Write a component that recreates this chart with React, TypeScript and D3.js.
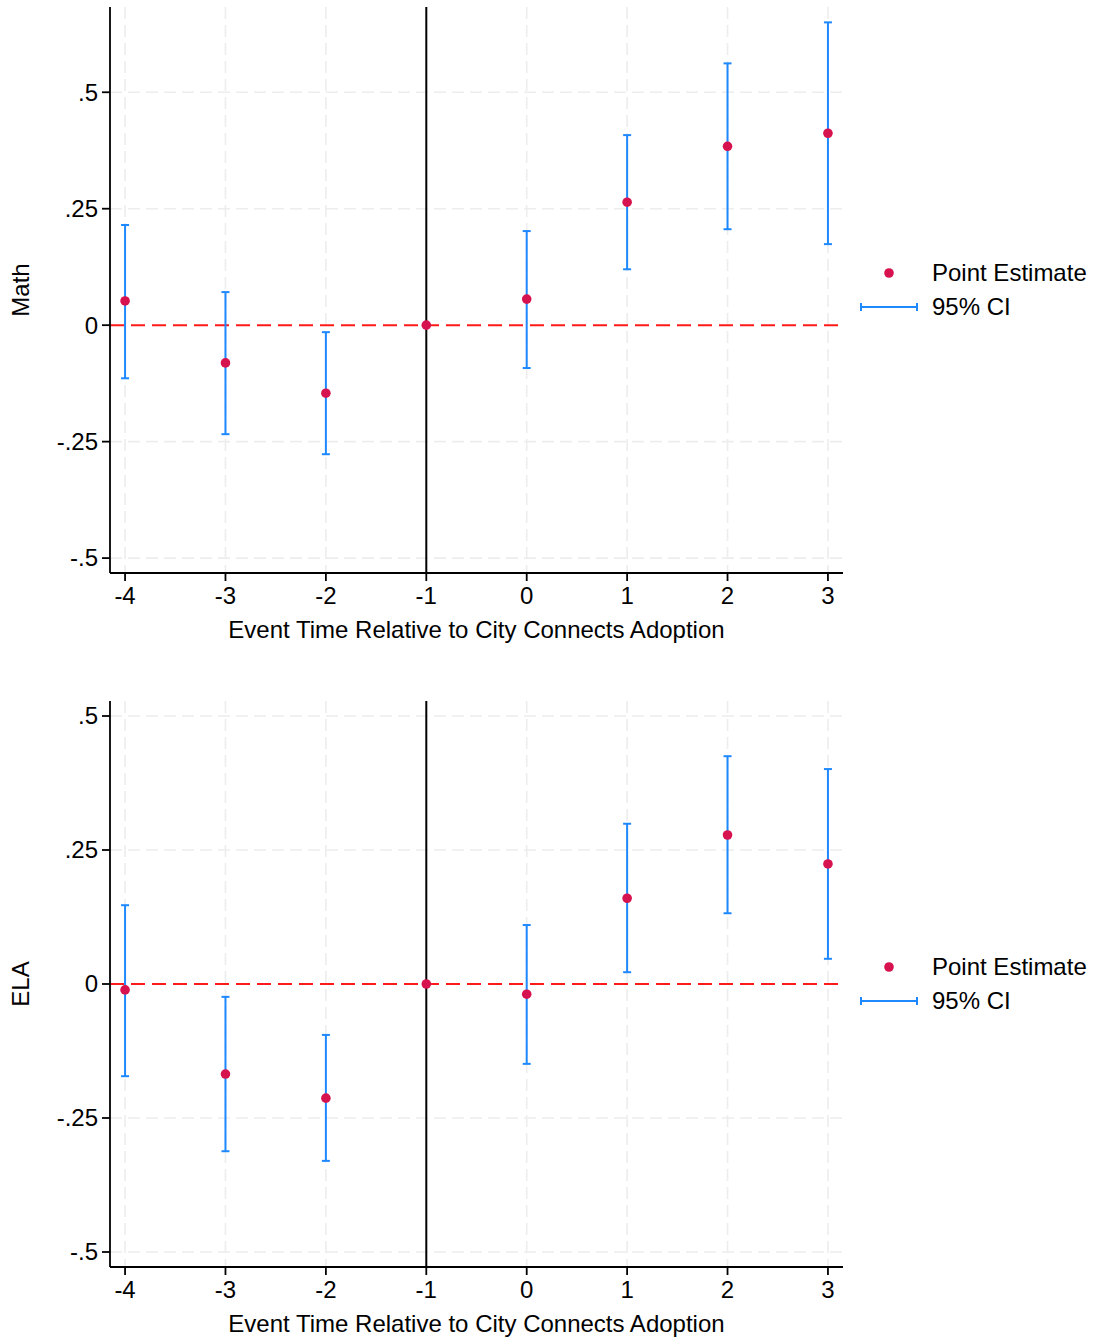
import React from "react";
import * as d3 from "d3";

const eventTimes = [-4, -3, -2, -1, 0, 1, 2, 3];
const mathEst = [0.052, -0.081, -0.146, 0, 0.056, 0.264, 0.384, 0.412];
const mathLo = [-0.114, -0.234, -0.277, 0, -0.092, 0.12, 0.206, 0.174];
const mathHi = [0.215, 0.071, -0.015, 0, 0.202, 0.408, 0.562, 0.65];
const elaEst = [-0.011, -0.168, -0.213, 0, -0.019, 0.16, 0.278, 0.224];
const elaLo = [-0.172, -0.312, -0.33, 0, -0.149, 0.022, 0.132, 0.047];
const elaHi = [0.147, -0.024, -0.095, 0, 0.11, 0.299, 0.425, 0.401];
const yTicks = [-0.5, -0.25, 0, 0.25, 0.5];
const yTickLabels = ["-.5", "-.25", "0", ".25", ".5"];
const xTitle = "Event Time Relative to City Connects Adoption";
const legendLabels = ["Point Estimate", "95% CI"];

const FONT = "'Liberation Sans', Arial, sans-serif";
const FS = 24;
const PT_COLOR = "#d6124f";
const CI_COLOR = "#1e88ff";

type PanelProps = {
  top: number;
  bottom: number;
  yDomain: [number, number];
  est: number[];
  lo: number[];
  hi: number[];
  label: string;
};

function Panel({ top, bottom, yDomain, est, lo, hi, label }: PanelProps) {
  const left = 110;
  const right = 843;
  const x = d3.scaleLinear().domain([-4.15, 3.15]).range([left, right]);
  const y = d3.scaleLinear().domain(yDomain).range([bottom, top]);
  const cap = 4;
  const legX = 861;
  const midY = (top + bottom) / 2;
  const legDotY = midY - 17;
  const legCiY = midY + 17;
  return (
    <g>
      {yTicks.filter((t) => t !== 0).map((t) => (
        <line key={"gy" + t} x1={left} x2={right} y1={y(t)} y2={y(t)} stroke="#ededed" strokeWidth={1.6} strokeDasharray="12 6" />
      ))}
      {eventTimes.filter((t) => t !== -1).map((t) => (
        <line key={"gx" + t} x1={x(t)} x2={x(t)} y1={top} y2={bottom} stroke="#ededed" strokeWidth={1.6} strokeDasharray="12 6" />
      ))}
      <line x1={left} x2={right} y1={y(0)} y2={y(0)} stroke="#ff1a1a" strokeWidth={2} strokeDasharray="14 7" />
      <line x1={x(-1)} x2={x(-1)} y1={top} y2={bottom} stroke="#000" strokeWidth={2} />
      <line x1={left} x2={left} y1={top} y2={bottom} stroke="#000" strokeWidth={1.8} />
      <line x1={left} x2={right} y1={bottom} y2={bottom} stroke="#000" strokeWidth={1.8} />
      {yTicks.map((t, i) => (
        <g key={"yt" + t}>
          <line x1={left - 8} x2={left} y1={y(t)} y2={y(t)} stroke="#000" strokeWidth={1.8} />
          <text x={left - 12} y={y(t)} dy="0.35em" textAnchor="end" fontFamily={FONT} fontSize={FS}>
            {yTickLabels[i]}
          </text>
        </g>
      ))}
      {eventTimes.map((t) => (
        <g key={"xt" + t}>
          <line x1={x(t)} x2={x(t)} y1={bottom} y2={bottom + 8} stroke="#000" strokeWidth={1.8} />
          <text x={x(t)} y={bottom + 31} textAnchor="middle" fontFamily={FONT} fontSize={FS}>
            {t}
          </text>
        </g>
      ))}
      <text x={(left + right) / 2} y={bottom + 65} textAnchor="middle" fontFamily={FONT} fontSize={FS}>
        {xTitle}
      </text>
      <text transform={`translate(29,${(top + bottom) / 2}) rotate(-90)`} textAnchor="middle" fontFamily={FONT} fontSize={FS}>
        {label}
      </text>
      {eventTimes.map((t, i) =>
        t === -1 ? null : (
          <g key={"ci" + t} stroke={CI_COLOR} strokeWidth={2}>
            <line x1={x(t)} x2={x(t)} y1={y(lo[i])} y2={y(hi[i])} />
            <line x1={x(t) - cap} x2={x(t) + cap} y1={y(lo[i])} y2={y(lo[i])} />
            <line x1={x(t) - cap} x2={x(t) + cap} y1={y(hi[i])} y2={y(hi[i])} />
          </g>
        )
      )}
      {eventTimes.map((t, i) => (
        <circle key={"pt" + t} cx={x(t)} cy={y(est[i])} r={4.8} fill={PT_COLOR} />
      ))}
      <circle cx={legX + 28} cy={legDotY} r={4.8} fill={PT_COLOR} />
      <text x={932} y={legDotY} dy="0.35em" fontFamily={FONT} fontSize={FS}>
        {legendLabels[0]}
      </text>
      <g stroke={CI_COLOR} strokeWidth={2}>
        <line x1={legX} x2={legX + 56} y1={legCiY} y2={legCiY} />
        <line x1={legX} x2={legX} y1={legCiY - 4} y2={legCiY + 4} />
        <line x1={legX + 56} x2={legX + 56} y1={legCiY - 4} y2={legCiY + 4} />
      </g>
      <text x={932} y={legCiY} dy="0.35em" fontFamily={FONT} fontSize={FS}>
        {legendLabels[1]}
      </text>
    </g>
  );
}

export default function App() {
  return (
    <svg width={1093} height={1340} style={{ position: "absolute", left: 0, top: 0, background: "#fff" }}>
      <rect width={1093} height={1340} fill="#fff" />
      <Panel top={7} bottom={573} yDomain={[-0.532, 0.683]} est={mathEst} lo={mathLo} hi={mathHi} label="Math" />
      <Panel top={701} bottom={1267} yDomain={[-0.528, 0.528]} est={elaEst} lo={elaLo} hi={elaHi} label="ELA" />
    </svg>
  );
}
